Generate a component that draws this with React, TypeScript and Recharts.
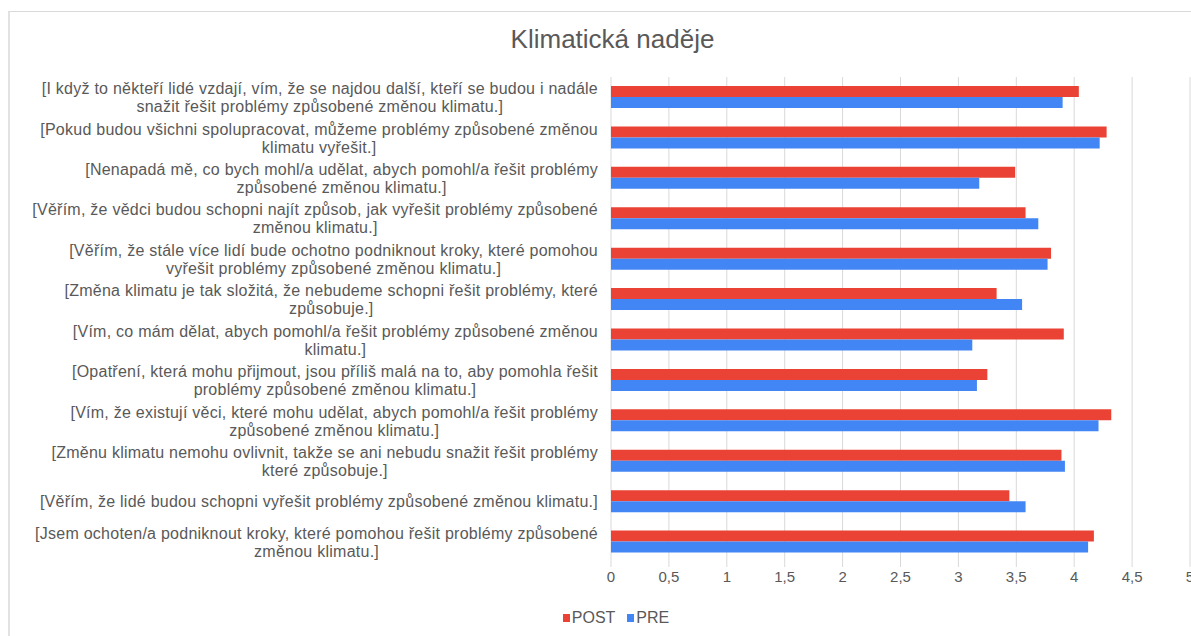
import { BarChart, Bar, XAxis, YAxis, CartesianGrid, Legend } from "recharts";

const categories = [
  "[I když to někteří lidé vzdají, vím, že se najdou další, kteří se budou i nadále\nsnažit řešit problémy způsobené změnou klimatu.]",
  "[Pokud budou všichni spolupracovat, můžeme problémy způsobené změnou\nklimatu vyřešit.]",
  "[Nenapadá mě, co bych mohl/a udělat, abych pomohl/a řešit problémy\nzpůsobené změnou klimatu.]",
  "[Věřím, že vědci budou schopni najít způsob, jak vyřešit problémy způsobené\nzměnou klimatu.]",
  "[Věřím, že stále více lidí bude ochotno podniknout kroky, které pomohou\nvyřešit problémy způsobené změnou klimatu.]",
  "[Změna klimatu je tak složitá, že nebudeme schopni řešit problémy, které\nzpůsobuje.]",
  "[Vím, co mám dělat, abych pomohl/a řešit problémy způsobené změnou\nklimatu.]",
  "[Opatření, která mohu přijmout, jsou příliš malá na to, aby pomohla řešit\nproblémy způsobené změnou klimatu.]",
  "[Vím, že existují věci, které mohu udělat, abych pomohl/a řešit problémy\nzpůsobené změnou klimatu.]",
  "[Změnu klimatu nemohu ovlivnit, takže se ani nebudu snažit řešit problémy\nkteré způsobuje.]",
  "[Věřím, že lidé budou schopni vyřešit problémy způsobené změnou klimatu.]",
  "[Jsem ochoten/a podniknout kroky, které pomohou řešit problémy způsobené\nzměnou klimatu.]",
];

const postValues = [4.04, 4.28, 3.49, 3.58, 3.8, 3.33, 3.91, 3.25, 4.32, 3.89, 3.44, 4.17];
const preValues = [3.9, 4.22, 3.18, 3.69, 3.77, 3.55, 3.12, 3.16, 4.21, 3.92, 3.58, 4.12];

const xTicks = [0, 0.5, 1, 1.5, 2, 2.5, 3, 3.5, 4, 4.5, 5];

const data = categories.map((c, i) => ({ label: c, POST: postValues[i], PRE: preValues[i] }));

const FONT = "'Liberation Sans', Arial, Helvetica, sans-serif";
const TEXT = "#595959";
const RED = "#EA4335";
const BLUE = "#4285F4";
const LABEL_SIZE = 16;
const LABEL_SPACING = 0.25;

let ctx: CanvasRenderingContext2D | null = null;
function measure(s: string) {
  if (!ctx) {
    ctx = document.createElement("canvas").getContext("2d");
    if (ctx) ctx.font = `${LABEL_SIZE}px ${FONT}`;
  }
  const base = ctx ? ctx.measureText(s).width : s.length * 7.5;
  return base + s.length * LABEL_SPACING;
}

function CategoryTick({ x, y, payload }: any) {
  const lines: string[] = String(payload.value).split("\n");
  const w = Math.max(...lines.map(measure));
  const cx = x - w / 2;
  const lh = 18;
  const start = y - ((lines.length - 1) * lh) / 2;
  return (
    <text
      x={cx}
      y={start}
      textAnchor="middle"
      fontSize={LABEL_SIZE}
      letterSpacing={LABEL_SPACING}
      fill={TEXT}
      fontFamily={FONT}
      dominantBaseline="central"
    >
      {lines.map((l, i) => (
        <tspan key={i} x={cx} y={start + i * lh}>
          {l}
        </tspan>
      ))}
    </text>
  );
}

function LegendContent() {
  const item = (color: string, name: string, gap: number) => (
    <span style={{ display: "inline-flex", alignItems: "center", marginRight: gap }}>
      <span style={{ width: 7, height: 8, background: color, marginRight: 2, display: "inline-block" }} />
      {name}
    </span>
  );
  return (
    <div style={{ height: 24, lineHeight: "24px", fontSize: 16, color: TEXT, fontFamily: FONT, paddingLeft: 42, textAlign: "center" }}>
      {item(RED, "POST", 12)}
      {item(BLUE, "PRE", 0)}
    </div>
  );
}

export default function App() {
  return (
    <div style={{ position: "absolute", left: 0, top: 0, width: 1191, height: 636, overflow: "hidden", background: "#fff" }}>
      <div
        style={{
          position: "absolute",
          left: 8,
          top: 11,
          width: 1300,
          height: 700,
          borderTop: "1px solid #d9d9d9",
          borderLeft: "2px solid #e2e2e2",
        }}
      />
      <div
        style={{
          position: "absolute",
          left: 0,
          top: 24,
          width: 1225,
          textAlign: "center",
          fontSize: 26,
          color: TEXT,
          fontFamily: FONT,
        }}
      >
        Klimatická naděje
      </div>
      <div style={{ position: "absolute", left: 0, top: 0 }}>
        <BarChart
          width={1191}
          height={636}
          data={data}
          layout="vertical"
          margin={{ top: 77, right: 1, left: 0, bottom: 7 }}
          barGap={0}
          barSize={11}
        >
          <CartesianGrid horizontal={false} stroke="#d9d9d9" />
          <XAxis
            type="number"
            domain={[0, 5]}
            ticks={xTicks}
            interval={0}
            height={43}
            axisLine={false}
            tickLine={{ stroke: "#d9d9d9" }}
            tickSize={5}
            tickMargin={4}
            tickFormatter={(v: number) => String(v).replace(".", ",")}
            tick={{ fontSize: 15, fill: TEXT, fontFamily: FONT }}
          />
          <YAxis
            type="category"
            dataKey="label"
            width={611}
            axisLine={false}
            tickLine={false}
            tickSize={0}
            tickMargin={13}
            interval={0}
            tick={<CategoryTick />}
          />
          <Legend verticalAlign="bottom" content={<LegendContent />} />
          <Bar dataKey="POST" fill={RED} isAnimationActive={false} />
          <Bar dataKey="PRE" fill={BLUE} isAnimationActive={false} />
        </BarChart>
      </div>
    </div>
  );
}
